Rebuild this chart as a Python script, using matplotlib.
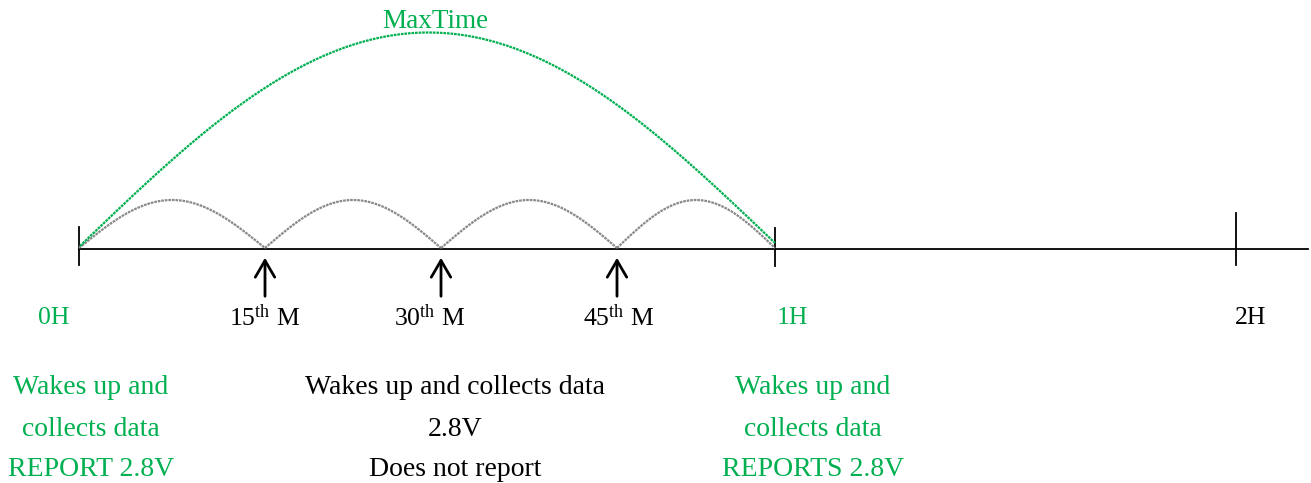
import numpy as np
import matplotlib
matplotlib.use("Agg")
import matplotlib.pyplot as plt

plt.rcParams['font.family'] = ['Liberation Serif', 'DejaVu Serif']
plt.rcParams['mathtext.fontset'] = 'custom'
plt.rcParams['mathtext.rm'] = 'Liberation Serif'
plt.rcParams['mathtext.it'] = 'Liberation Serif:italic'

GREEN = '#00B050'

# ---- content ----
hour_labels = ['0H', '1H', '2H']
hour_colors = [GREEN, GREEN, 'black']
minute_labels = ['15', '30', '45']
maxtime_label = 'MaxTime'
block_left = ['Wakes up and', 'collects data', 'REPORT 2.8V']
block_mid = ['Wakes up and collects data', '2.8V', 'Does not report']
block_right = ['Wakes up and', 'collects data', 'REPORTS 2.8V']

# ---- layout (pixel coordinates of the diagram) ----
hour_x = [79, 775, 1236]
minute_x = [265, 441, 617]
line_y = 249
line_end = 1308

fig = plt.figure(figsize=(13.11, 4.83), dpi=100)
ax = fig.add_axes([0, 0, 1, 1])
ax.set_xlim(0, 1311)
ax.set_ylim(483, 0)
ax.axis('off')

# timeline
ax.plot([hour_x[0], line_end], [line_y, line_y], color='black', lw=1.3)
tick_spans = [(227, 265), (228, 266), (213, 265)]
for x, (y0, y1) in zip(hour_x, tick_spans):
    ax.plot([x, x], [y0, y1], color='black', lw=1.3)

# gray small arcs between wake-ups
arc_pts = [hour_x[0]] + minute_x + [hour_x[1]]
for a, b in zip(arc_pts[:-1], arc_pts[1:]):
    t = np.linspace(0, 1, 200)
    xs = a + (b - a) * t
    ys = line_y - 1 - 48 * np.sin(np.pi * t)
    ax.plot(xs, ys, color='#8a8a8a', lw=1.6, ls=(0, (1.2, 0.4)))

# green MaxTime arc
t = np.linspace(0, 1, 400)
xs = hour_x[0] + 1 + (hour_x[1] - hour_x[0] - 1) * t
base = 246 + (243 - 246) * t
ys = base - 212 * np.sin(np.pi * t)
ax.plot(xs, ys, color=GREEN, lw=1.6, ls=(0, (1.2, 0.4)))
ax.text(435, 22, maxtime_label, color=GREEN, fontsize=19.5, ha='center', va='center')

# arrows
for x in minute_x:
    ax.annotate('', xy=(x, line_y + 6), xytext=(x, 299),
                arrowprops=dict(arrowstyle='->,head_length=1.2,head_width=0.7',
                                color='black', lw=2.0))

# hour labels
hour_label_x = [54, 792, 1251]
for x, lab, c in zip(hour_label_x, hour_labels, hour_colors):
    ax.text(x, 318, lab, color=c, fontsize=18.5, ha='center', va='center')

# minute labels
minute_label_x = [265, 430, 619]
for x, lab in zip(minute_label_x, minute_labels):
    ax.text(x, 318, lab + r'$^{\mathrm{th}}$' + ' M', color='black', fontsize=18.5,
            ha='center', va='center')

# text blocks
block_y = [387, 429, 470]
for lines, cx, c in [(block_left, 91, GREEN), (block_mid, 455, 'black'), (block_right, 813, GREEN)]:
    for y, s in zip(block_y, lines):
        ax.text(cx, y, s, color=c, fontsize=20, ha='center', va='center')

fig.savefig('out.png', dpi=100)
